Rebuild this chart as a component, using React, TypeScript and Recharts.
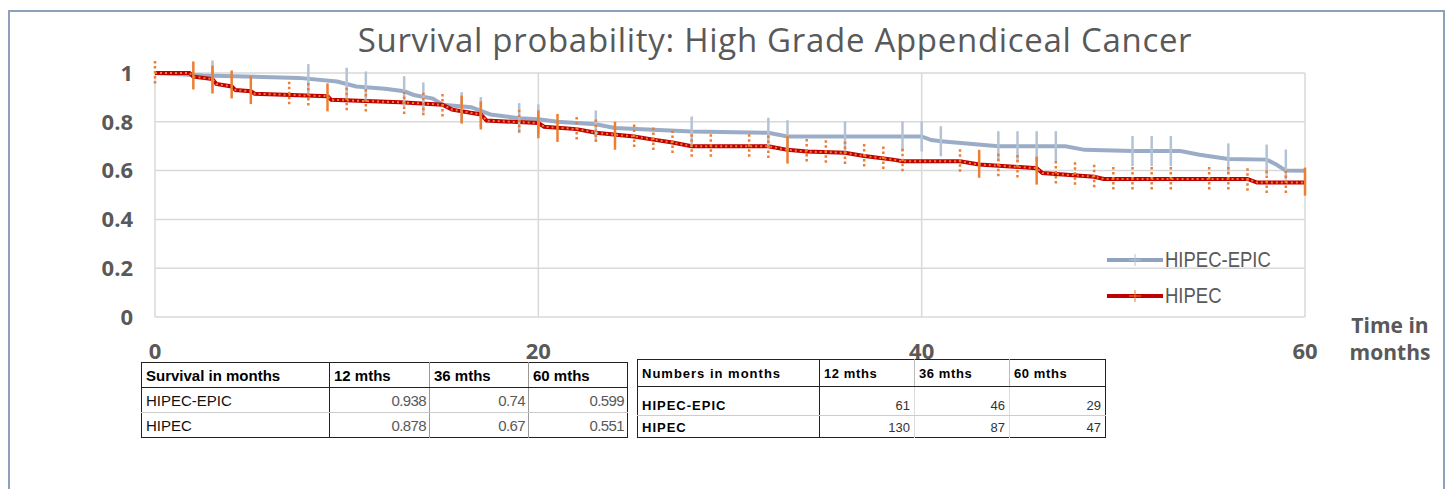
import React from "react";
import {
  CartesianGrid,
  ComposedChart,
  Line,
  Scatter,
  XAxis,
  YAxis,
} from "recharts";

// time in months (t) vs survival probability (s)
const monthTicks = [0, 20, 40, 60];
const survivalTicks = [0, 0.2, 0.4, 0.6, 0.8, 1];

const epicCurve = [
  { t: 0, s: 1 },
  { t: 2.5, s: 0.99 },
  { t: 7.5, s: 0.98 },
  { t: 9.5, s: 0.965 },
  { t: 10.5, s: 0.945 },
  { t: 12, s: 0.935 },
  { t: 13, s: 0.925 },
  { t: 13.5, s: 0.91 },
  { t: 14.5, s: 0.895 },
  { t: 15, s: 0.87 },
  { t: 16.5, s: 0.86 },
  { t: 17.5, s: 0.83 },
  { t: 19, s: 0.815 },
  { t: 20, s: 0.81 },
  { t: 21, s: 0.8 },
  { t: 23, s: 0.79 },
  { t: 24, s: 0.775 },
  { t: 28, s: 0.76 },
  { t: 32, s: 0.755 },
  { t: 33, s: 0.74 },
  { t: 40, s: 0.74 },
  { t: 40.5, s: 0.725 },
  { t: 41, s: 0.72 },
  { t: 44, s: 0.7 },
  { t: 47.5, s: 0.7 },
  { t: 48.5, s: 0.685 },
  { t: 51, s: 0.68 },
  { t: 53.5, s: 0.68 },
  { t: 54.5, s: 0.665 },
  { t: 56, s: 0.648 },
  { t: 58, s: 0.645 },
  { t: 58.5, s: 0.625 },
  { t: 59, s: 0.6 },
  { t: 60, s: 0.599 },
];

const hipecCurve = [
  { t: 0, s: 1 },
  { t: 1.8, s: 1 },
  { t: 2, s: 0.985 },
  { t: 3, s: 0.975 },
  { t: 3.2, s: 0.955 },
  { t: 4, s: 0.945 },
  { t: 4.2, s: 0.93 },
  { t: 5, s: 0.925 },
  { t: 5.2, s: 0.915 },
  { t: 9, s: 0.905 },
  { t: 9.2, s: 0.89 },
  { t: 12.8, s: 0.88 },
  { t: 15, s: 0.87 },
  { t: 15.5, s: 0.85 },
  { t: 17, s: 0.83 },
  { t: 17.3, s: 0.805 },
  { t: 20, s: 0.795 },
  { t: 20.3, s: 0.78 },
  { t: 22, s: 0.77 },
  { t: 23, s: 0.755 },
  { t: 25, s: 0.74 },
  { t: 26, s: 0.727 },
  { t: 27, s: 0.715 },
  { t: 28, s: 0.7 },
  { t: 32, s: 0.7 },
  { t: 33, s: 0.685 },
  { t: 34, s: 0.678 },
  { t: 36, s: 0.673 },
  { t: 37, s: 0.66 },
  { t: 38.5, s: 0.645 },
  { t: 39, s: 0.638 },
  { t: 42, s: 0.638 },
  { t: 43, s: 0.625 },
  { t: 46, s: 0.61 },
  { t: 46.3, s: 0.59 },
  { t: 49, s: 0.575 },
  { t: 49.5, s: 0.566 },
  { t: 57, s: 0.566 },
  { t: 57.5, s: 0.551 },
  { t: 60, s: 0.551 },
];

// censored observations
const epicCensored = [
  { t: 3, s: 0.99 },
  { t: 8, s: 0.975 },
  { t: 10, s: 0.96 },
  { t: 11, s: 0.945 },
  { t: 13, s: 0.925 },
  { t: 14, s: 0.9 },
  { t: 16, s: 0.86 },
  { t: 17, s: 0.84 },
  { t: 19, s: 0.815 },
  { t: 20, s: 0.81 },
  { t: 23, s: 0.785 },
  { t: 28, s: 0.76 },
  { t: 32, s: 0.755 },
  { t: 33, s: 0.745 },
  { t: 36, s: 0.74 },
  { t: 39, s: 0.74 },
  { t: 40, s: 0.74 },
  { t: 41, s: 0.72 },
  { t: 44, s: 0.7 },
  { t: 45, s: 0.7 },
  { t: 46, s: 0.7 },
  { t: 47, s: 0.7 },
  { t: 51, s: 0.68 },
  { t: 52, s: 0.68 },
  { t: 53, s: 0.68 },
  { t: 56, s: 0.65 },
  { t: 58, s: 0.645 },
  { t: 59, s: 0.625 },
];

const hipecCensoredMain = [
  { t: 2, s: 0.99 },
  { t: 3, s: 0.973 },
  { t: 4, s: 0.953 },
  { t: 5, s: 0.93 },
  { t: 9, s: 0.9 },
  { t: 16, s: 0.85 },
  { t: 17, s: 0.826 },
  { t: 20, s: 0.79 },
  { t: 21, s: 0.775 },
  { t: 24, s: 0.743 },
  { t: 33, s: 0.686 },
  { t: 43, s: 0.628 },
  { t: 46, s: 0.6 },
  { t: 60, s: 0.555 },
];

const hipecCensoredOther = [
  { t: 0, s: 1 },
  { t: 7, s: 0.915 },
  { t: 8, s: 0.91 },
  { t: 10, s: 0.89 },
  { t: 11, s: 0.885 },
  { t: 13, s: 0.875 },
  { t: 14, s: 0.87 },
  { t: 15, s: 0.865 },
  { t: 19, s: 0.8 },
  { t: 22, s: 0.77 },
  { t: 23, s: 0.76 },
  { t: 25, s: 0.74 },
  { t: 26, s: 0.727 },
  { t: 27, s: 0.715 },
  { t: 28, s: 0.7 },
  { t: 29, s: 0.7 },
  { t: 31, s: 0.7 },
  { t: 32, s: 0.695 },
  { t: 34, s: 0.68 },
  { t: 35, s: 0.675 },
  { t: 36, s: 0.67 },
  { t: 37, s: 0.66 },
  { t: 38, s: 0.65 },
  { t: 39, s: 0.64 },
  { t: 42, s: 0.638 },
  { t: 44, s: 0.62 },
  { t: 45, s: 0.615 },
  { t: 47, s: 0.59 },
  { t: 48, s: 0.585 },
  { t: 49, s: 0.575 },
  { t: 50, s: 0.566 },
  { t: 51, s: 0.566 },
  { t: 52, s: 0.566 },
  { t: 53, s: 0.566 },
  { t: 55, s: 0.566 },
  { t: 56, s: 0.566 },
  { t: 57, s: 0.56 },
  { t: 58, s: 0.551 },
  { t: 59, s: 0.551 },
];

const seriesNames = ["HIPEC-EPIC", "HIPEC"];
const tableMonths = ["12 mths", "36 mths", "60 mths"];
const survivalRows = [
  { name: "HIPEC-EPIC", values: ["0.938", "0.74", "0.599"] },
  { name: "HIPEC", values: ["0.878", "0.67", "0.551"] },
];
const numbersRows = [
  { name: "HIPEC-EPIC", values: ["61", "46", "29"] },
  { name: "HIPEC", values: ["130", "87", "47"] },
];

const EPIC = "#8FA3C0";
const EPIC_TICK = "#B4C2D5";
const RED = "#C00000";
const ORANGE = "#ED7D31";
const GREY = "#595959";
const ARIAL = "'Liberation Sans', Arial, sans-serif";

const censorMark =
  (color: string, half: number, dash?: string) => (p: any) =>
    (
      <line
        x1={p.cx}
        x2={p.cx}
        y1={p.cy - half}
        y2={p.cy + half}
        stroke={color}
        strokeWidth={2.5}
        strokeDasharray={dash}
      />
    );

function LegendBox() {
  const colors = [
    { line: EPIC, mark: EPIC_TICK },
    { line: RED, mark: ORANGE },
  ];
  return (
    <div style={{ position: "absolute", left: 1105, top: 242 }}>
      {seriesNames.map((name, i) => (
        <div key={name} style={{ display: "flex", alignItems: "center", height: 36 }}>
          <svg width={60} height={20}>
            <line x1={2} x2={58} y1={10} y2={10} stroke={colors[i].line} strokeWidth={4} />
            <line x1={30} x2={30} y1={4} y2={16} stroke={colors[i].mark} strokeWidth={1} />
            <line x1={24} x2={36} y1={10} y2={10} stroke={colors[i].mark} strokeWidth={1} />
          </svg>
          <span
            style={{
              display: "inline-block",
              fontFamily: ARIAL,
              fontSize: 22,
              color: GREY,
              transform: "scaleX(0.84)",
              transformOrigin: "left center",
            }}
          >
            {name}
          </span>
        </div>
      ))}
    </div>
  );
}

const cell = (extra: React.CSSProperties): React.CSSProperties => ({
  padding: "0 4px",
  whiteSpace: "nowrap",
  ...extra,
});

function SurvivalTable() {
  const widths = [188, 100, 99, 99];
  return (
    <table
      style={{
        position: "absolute",
        left: 141,
        top: 362,
        borderCollapse: "collapse",
        fontFamily: ARIAL,
        fontSize: 15,
        border: "1.5px solid #222",
        tableLayout: "fixed",
        width: 486,
      }}
    >
      <colgroup>
        {widths.map((w, i) => (
          <col key={i} style={{ width: w }} />
        ))}
      </colgroup>
      <tbody>
        <tr style={{ height: 25 }}>
          <td style={cell({ fontWeight: 700, borderRight: "1.5px solid #222", borderBottom: "1.5px solid #222" })}>
            Survival in months
          </td>
          {tableMonths.map((m, i) => (
            <td
              key={m}
              style={cell({ fontWeight: 700, borderRight: i < 2 ? "1px solid #999" : undefined, borderBottom: "1.5px solid #222" })}
            >
              {m}
            </td>
          ))}
        </tr>
        {survivalRows.map((r, ri) => (
          <tr key={r.name} style={{ height: 25 }}>
            <td style={cell({ color: "#111", borderRight: "1.5px solid #222", borderBottom: ri === 0 ? "1px solid #ccc" : undefined })}>
              {r.name}
            </td>
            {r.values.map((v, i) => (
              <td
                key={i}
                style={cell({ textAlign: "right", color: GREY, letterSpacing: -0.6, paddingRight: 3, borderRight: i < 2 ? "1px solid #999" : undefined, borderBottom: ri === 0 ? "1px solid #ccc" : undefined })}
              >
                {v}
              </td>
            ))}
          </tr>
        ))}
      </tbody>
    </table>
  );
}

function NumbersTable() {
  const widths = [182, 95, 95, 96];
  const rowH = [27, 29, 22];
  return (
    <table
      style={{
        position: "absolute",
        left: 637,
        top: 359,
        borderCollapse: "collapse",
        fontFamily: ARIAL,
        fontSize: 13,
        border: "1.5px solid #222",
        tableLayout: "fixed",
        width: 468,
      }}
    >
      <colgroup>
        {widths.map((w, i) => (
          <col key={i} style={{ width: w }} />
        ))}
      </colgroup>
      <tbody>
        <tr style={{ height: rowH[0] }}>
          <td style={cell({ fontWeight: 700, letterSpacing: 1, borderRight: "1.5px solid #222", borderBottom: "1.5px solid #222" })}>
            Numbers in months
          </td>
          {tableMonths.map((m, i) => (
            <td
              key={m}
              style={cell({ fontWeight: 700, letterSpacing: 0.6, borderRight: i < 2 ? "1px solid #bbb" : undefined, borderBottom: "1.5px solid #222" })}
            >
              {m}
            </td>
          ))}
        </tr>
        {numbersRows.map((r, ri) => (
          <tr key={r.name} style={{ height: rowH[ri + 1] }}>
            <td style={cell({ fontWeight: 700, letterSpacing: 1, verticalAlign: "bottom", paddingBottom: 2, borderRight: "1.5px solid #222", borderBottom: ri === 0 ? "1px solid #ccc" : undefined })}>
              {r.name}
            </td>
            {r.values.map((v, i) => (
              <td
                key={i}
                style={cell({ textAlign: "right", verticalAlign: "bottom", paddingBottom: 2, color: "#333", borderRight: i < 2 ? "1px solid #ddd" : undefined, borderBottom: ri === 0 ? "1px solid #ccc" : undefined })}
              >
                {v}
              </td>
            ))}
          </tr>
        ))}
      </tbody>
    </table>
  );
}

export default function App() {
  const tickFont = {
    fontFamily: "'Open Sans', sans-serif",
    fontWeight: 700,
    fontSize: 22,
    fill: GREY,
  };
  return (
    <div style={{ position: "absolute", left: 0, top: 0, width: 1450, height: 489, overflow: "hidden", background: "#fff" }}>
      <div
        style={{
          position: "absolute",
          left: 8,
          top: 10,
          width: 1433,
          height: 500,
          border: "2px solid #8EA0BC",
        }}
      />
      <div
        style={{
          position: "absolute",
          left: 275,
          top: 23,
          width: 1000,
          textAlign: "center",
          fontFamily: "'Open Sans', sans-serif",
          fontSize: 33,
          letterSpacing: 0.7,
          lineHeight: "33px",
          color: GREY,
        }}
      >
        Survival probability: High Grade Appendiceal Cancer
      </div>
      <div style={{ position: "absolute", left: 0, top: 0 }}>
        <ComposedChart
          width={1450}
          height={489}
          margin={{ top: 73, right: 145, left: 95, bottom: 142 }}
        >
          <CartesianGrid stroke="#D9D9D9" strokeWidth={1.5} />
          <XAxis
            type="number"
            dataKey="t"
            domain={[0, 60]}
            ticks={monthTicks}
            height={30}
            axisLine={false}
            tickLine={false}
            tickMargin={20}
            tick={tickFont}
          />
          <YAxis
            type="number"
            domain={[0, 1]}
            ticks={survivalTicks}
            width={60}
            axisLine={false}
            tickLine={false}
            tickMargin={16}
            tick={tickFont}
          />
          <Line
            data={epicCurve}
            dataKey="s"
            name={seriesNames[0]}
            type="linear"
            stroke={EPIC}
            strokeWidth={4}
            strokeOpacity={0.9}
            dot={false}
            activeDot={false}
            isAnimationActive={false}
          />
          <Scatter
            data={epicCensored}
            dataKey="s"
            legendType="none"
            shape={censorMark(EPIC_TICK, 15)}
            isAnimationActive={false}
          />
          <Line
            data={hipecCurve}
            dataKey="s"
            name={seriesNames[1]}
            type="linear"
            stroke={RED}
            strokeWidth={4}
            dot={false}
            activeDot={false}
            isAnimationActive={false}
          />
          <Line
            data={hipecCurve}
            dataKey="s"
            legendType="none"
            type="linear"
            stroke={ORANGE}
            strokeWidth={2}
            strokeDasharray="2 3"
            dot={false}
            activeDot={false}
            isAnimationActive={false}
          />
          <Scatter
            data={hipecCensoredOther}
            dataKey="s"
            legendType="none"
            shape={censorMark(ORANGE, 12, "2.5 2.5")}
            isAnimationActive={false}
          />
          <Scatter
            data={hipecCensoredMain}
            dataKey="s"
            legendType="none"
            shape={censorMark(ORANGE, 14)}
            isAnimationActive={false}
          />
        </ComposedChart>
      </div>
      <LegendBox />
      <div
        style={{
          position: "absolute",
          left: 1340,
          top: 312,
          width: 100,
          textAlign: "center",
          fontFamily: "'Open Sans', sans-serif",
          fontWeight: 700,
          fontSize: 21,
          lineHeight: "27px",
          color: GREY,
        }}
      >
        Time in
        <br />
        months
      </div>
      <SurvivalTable />
      <NumbersTable />
    </div>
  );
}
